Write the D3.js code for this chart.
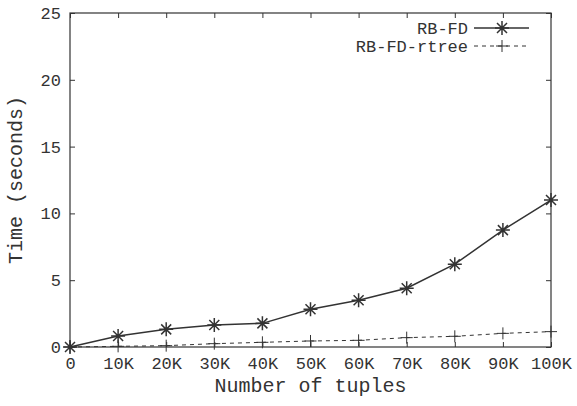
<!DOCTYPE html>
<html>
<head>
<meta charset="utf-8">
<script src="https://cdn.jsdelivr.net/npm/d3@7"></script>
<style>
  body { margin: 0; background: #fff; }
  text { font-family: "Courier New", "Liberation Mono", Courier, monospace; fill: #333; }
</style>
</head>
<body>
<svg id="chart" width="577" height="406"></svg>
<script>
// data
var tuples = [0, 10, 20, 30, 40, 50, 60, 70, 80, 90, 100];
var tickLabels = ["0", "10K", "20K", "30K", "40K", "50K", "60K", "70K", "80K", "90K", "100K"];
var rbfd = [0, 0.82, 1.32, 1.65, 1.77, 2.82, 3.5, 4.4, 6.2, 8.75, 11.0];
var rbfdRtree = [0, 0.05, 0.1, 0.25, 0.35, 0.45, 0.5, 0.7, 0.8, 1.02, 1.15];
var yTicks = [0, 5, 10, 15, 20, 25];
var seriesNames = ["RB-FD", "RB-FD-rtree"];

var svg = d3.select("#chart");
var margin = { left: 70, right: 26, top: 13, bottom: 59 };
var W = 577, H = 406;
var ink = "#333";

var x = d3.scaleLinear().domain([0, 100]).range([margin.left, W - margin.right]);
var y = d3.scaleLinear().domain([0, 25]).range([H - margin.bottom, margin.top]);

// frame
svg.append("rect")
    .attr("x", x(0)).attr("y", y(25))
    .attr("width", x(100) - x(0)).attr("height", y(0) - y(25))
    .attr("fill", "none").attr("stroke", ink).attr("stroke-width", 1.2);

// axes with inward ticks, mirrored
function styleAxis(g) {
    g.select(".domain").remove();
    g.selectAll("line").attr("stroke", ink).attr("stroke-width", 1);
    g.selectAll("text").style("font-size", "17px").attr("fill", ink);
}

svg.append("g")
    .attr("transform", "translate(0," + y(0) + ")")
    .call(d3.axisBottom(x).tickValues(tuples).tickSize(-5).tickPadding(10)
        .tickFormat(function (d, i) { return tickLabels[i]; }))
    .call(styleAxis);
svg.append("g")
    .attr("transform", "translate(0," + y(25) + ")")
    .call(d3.axisTop(x).tickValues(tuples).tickSize(-5).tickFormat(""))
    .call(styleAxis);
svg.append("g")
    .attr("transform", "translate(" + x(0) + ",0)")
    .call(d3.axisLeft(y).tickValues(yTicks).tickSize(-5).tickPadding(9))
    .call(styleAxis);
svg.append("g")
    .attr("transform", "translate(" + x(100) + ",0)")
    .call(d3.axisRight(y).tickValues(yTicks).tickSize(-5).tickFormat(""))
    .call(styleAxis);

// axis titles
svg.append("text")
    .attr("x", (x(0) + x(100)) / 2).attr("y", 392)
    .attr("text-anchor", "middle").style("font-size", "20px")
    .text("Number of tuples");
svg.append("text")
    .attr("transform", "translate(22," + (y(0) + y(25)) / 2 + ") rotate(-90)")
    .attr("text-anchor", "middle").style("font-size", "20px")
    .text("Time (seconds)");

// markers
function star(g, cx, cy) {
    var r = 7, d = 5;
    var p = "M" + (cx - r) + "," + cy + "H" + (cx + r) +
        "M" + cx + "," + (cy - r) + "V" + (cy + r) +
        "M" + (cx - d) + "," + (cy - d) + "L" + (cx + d) + "," + (cy + d) +
        "M" + (cx - d) + "," + (cy + d) + "L" + (cx + d) + "," + (cy - d);
    g.append("path").attr("d", p).attr("stroke", ink).attr("stroke-width", 1.5).attr("fill", "none");
}
function plus(g, cx, cy) {
    var r = 6;
    var p = "M" + (cx - r) + "," + cy + "H" + (cx + r) +
        "M" + cx + "," + (cy - r) + "V" + (cy + r);
    g.append("path").attr("d", p).attr("stroke", ink).attr("stroke-width", 1).attr("fill", "none");
}

var line = d3.line().x(function (d) { return x(d[0]); }).y(function (d) { return y(d[1]); });

var g1 = svg.append("g");
g1.append("path")
    .attr("d", line(tuples.map(function (t, i) { return [t, rbfd[i]]; })))
    .attr("fill", "none").attr("stroke", ink).attr("stroke-width", 1.5);
tuples.forEach(function (t, i) { star(g1, x(t), y(rbfd[i])); });

var g2 = svg.append("g");
g2.append("path")
    .attr("d", line(tuples.map(function (t, i) { return [t, rbfdRtree[i]]; })))
    .attr("fill", "none").attr("stroke", ink).attr("stroke-width", 1)
    .attr("stroke-dasharray", "4,4");
tuples.forEach(function (t, i) { plus(g2, x(t), y(rbfdRtree[i])); });

// legend
var legY = [28, 46];
seriesNames.forEach(function (name, i) {
    svg.append("text")
        .attr("x", 468).attr("y", legY[i]).attr("dy", "0.35em")
        .attr("text-anchor", "end").style("font-size", "17px")
        .text(name);
    var l = svg.append("line")
        .attr("x1", 474).attr("x2", 529).attr("y1", legY[i]).attr("y2", legY[i])
        .attr("stroke", ink);
    if (i === 0) {
        l.attr("stroke-width", 1.5);
        star(svg, 502, legY[i]);
    } else {
        l.attr("stroke-width", 1).attr("stroke-dasharray", "4,4");
        plus(svg, 502, legY[i]);
    }
});
</script>
</body>
</html>
